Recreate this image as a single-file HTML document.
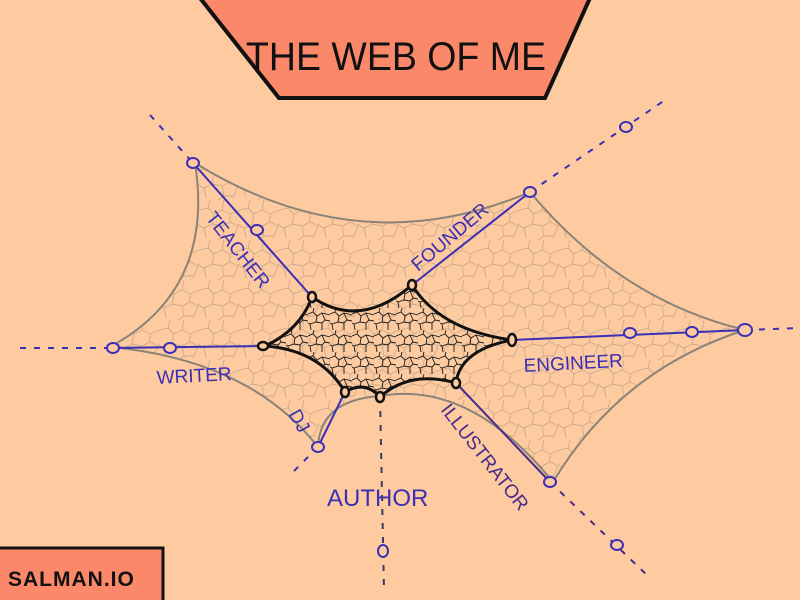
<!DOCTYPE html>
<html><head><meta charset="utf-8"><style>
html,body{margin:0;padding:0;background:#fdcb9f;}
svg{display:block}
text{font-family:"Liberation Sans",sans-serif;}
</style></head><body>
<svg width="800" height="600" viewBox="0 0 800 600" xmlns="http://www.w3.org/2000/svg">
<defs>
<pattern id="crack" width="40" height="40" patternUnits="userSpaceOnUse">
<path d="M0 10 L8 8 L14 14 L22 10 L30 14 L40 10 M8 8 L10 0 M14 14 L12 24 L4 28 L0 26 M12 24 L22 26 L30 22 L30 14 M22 26 L24 36 L18 40 M30 22 L38 26 L40 24 M24 36 L34 36 L38 26 M4 28 L6 38 M22 10 L24 0" fill="none" stroke="#9b8a7c" stroke-width="0.9" opacity="0.5"/>
</pattern>
<pattern id="crack2" width="22" height="22" patternUnits="userSpaceOnUse">
<path d="M0 6 L5 4 L9 8 L14 5 L22 7 M5 4 L6 0 M9 8 L8 14 L2 16 L0 15 M8 14 L14 15 L17 12 L14 5 M14 15 L14 22 M17 12 L22 13 M2 16 L3 22" fill="none" stroke="#1a1a1a" stroke-width="0.9"/>
</pattern>
</defs>
<path d="M195 163 Q360 265 530 192 Q620 300 745 330 Q620 370 553 482 Q470 380 380 396 Q320 400 318 447 Q250 360 110 347 Q215 290 195 163 Z" fill="url(#crack)" stroke="#8c8378" stroke-width="2"/>
<path d="M312 297 Q360 330 412 285 Q440 330 512 340 Q460 350 456 383 Q410 370 380 397 Q365 380 345 392 Q320 350 265 346 Q300 330 312 297 Z" fill="url(#crack2)" stroke="#111" stroke-width="3"/>
<g fill="none" stroke="#3b2fb5" stroke-width="2">
<path d="M193 163 L312 297"/><path d="M150 115 L193 163" stroke-dasharray="6 8"/>
<path d="M412 285 L530 192"/><path d="M530 192 L665 100" stroke-dasharray="6 8"/>
<path d="M512 340 L745 330"/><path d="M745 330 L800 328" stroke-dasharray="6 8"/>
<path d="M108 348 L265 346"/><path d="M20 348 L108 348" stroke-dasharray="6 8"/>
<path d="M345 392 L318 447"/><path d="M318 447 L290 475" stroke-dasharray="6 8"/>
<path d="M380 397 L384 590" stroke-dasharray="6 8" stroke="#3a3a6a"/>
<path d="M456 383 L550 482" stroke="#4a2a8a"/><path d="M550 482 L650 578" stroke-dasharray="6 8" stroke="#4a2a8a"/>
</g>
<g fill="#fdcb9f" stroke="#3b2fb5" stroke-width="2">
<ellipse cx="193" cy="163" rx="6" ry="5"/><ellipse cx="257" cy="230" rx="6" ry="5"/>
<ellipse cx="530" cy="192" rx="6" ry="5"/><ellipse cx="626" cy="127" rx="6" ry="5"/>
<ellipse cx="630" cy="333" rx="6" ry="5"/><ellipse cx="692" cy="332" rx="6" ry="5"/><ellipse cx="745" cy="330" rx="7" ry="6"/>
<ellipse cx="113" cy="348" rx="6" ry="5"/><ellipse cx="170" cy="348" rx="6" ry="5"/>
<ellipse cx="318" cy="447" rx="6" ry="5"/>
<ellipse cx="383" cy="551" rx="5" ry="6"/>
<ellipse cx="550" cy="482" rx="6" ry="5"/><ellipse cx="617" cy="545" rx="6" ry="5"/>
</g>
<g fill="#fdcb9f" stroke="#111" stroke-width="2.5">
<ellipse cx="312" cy="297" rx="4" ry="5"/><ellipse cx="412" cy="285" rx="4" ry="5"/>
<ellipse cx="512" cy="340" rx="4" ry="6"/><ellipse cx="456" cy="383" rx="4" ry="5"/>
<ellipse cx="380" cy="397" rx="4" ry="5"/><ellipse cx="345" cy="392" rx="4" ry="5"/>
<ellipse cx="263" cy="346" rx="5" ry="4"/>
</g>
<g fill="#3b2fb5" font-size="19">
<text transform="translate(205,218) rotate(52)">TEACHER</text>
<text transform="translate(418,272) rotate(-40)">FOUNDER</text>
<text transform="translate(524,372) rotate(-3)">ENGINEER</text>
<text transform="translate(157,384) rotate(-3)">WRITER</text>
<text transform="translate(288,414) rotate(60)">DJ</text>
<text x="327" y="506" font-size="24">AUTHOR</text>
<text transform="translate(440,410) rotate(52)" fill="#4a2a8a">ILLUSTRATOR</text>
</g>
<polygon points="200,-2 590,-2 545,98 279,98" fill="#fa8869" stroke="#111" stroke-width="4"/>
<text x="246" y="70" font-size="40" fill="#111" textLength="300" lengthAdjust="spacingAndGlyphs">THE WEB OF ME</text>
<rect x="-3" y="548" width="166" height="56" fill="#fa8869" stroke="#111" stroke-width="3"/>
<text x="8" y="586" font-size="21" font-weight="bold" fill="#111" letter-spacing="1">SALMAN.IO</text>
</svg>
</body></html>
